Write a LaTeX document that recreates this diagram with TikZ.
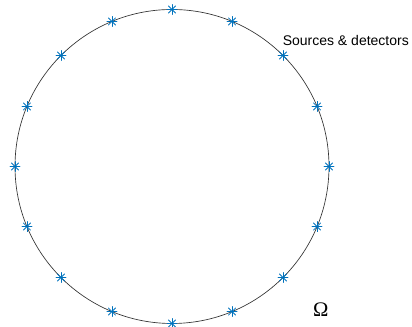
\documentclass[tikz,border=0pt]{standalone}
\usepackage{fontspec}
\setmainfont{Liberation Sans}
\newfontfamily\omegafont{Liberation Serif}
\usetikzlibrary{calc}
\definecolor{mblue}{rgb}{0,0.447,0.741}
\begin{document}
\begin{tikzpicture}[
  x=0.75pt, y=0.75pt,
  line join=round, line cap=round,
  boundary/.style={line width=0.5pt, draw=black!80},
  star/.style={line width=0.6pt, draw=mblue},
]
\useasboundingbox (0,0) rectangle (412,327);

% the domain boundary
\coordinate (o) at (172,160.5);
\draw[boundary] (o) circle (157);

% sources and detectors, every 22.5 degrees
\foreach \i in {0,...,15} {
  \coordinate (s\i) at ($(o)+(\i*22.5:157)$);
  \draw[star] ([shift={(-5,0)}]s\i) -- ([shift={(5,0)}]s\i);
  \draw[star] ([shift={(0,-5)}]s\i) -- ([shift={(0,5)}]s\i);
  \draw[star] ([shift={(-3.6,-3.6)}]s\i) -- ([shift={(3.6,3.6)}]s\i);
  \draw[star] ([shift={(-3.6,3.6)}]s\i) -- ([shift={(3.6,-3.6)}]s\i);
}

\node[anchor=base west, inner sep=0, font=\fontsize{10.5pt}{12pt}\selectfont] (lbl) at (282.5,281) {Sources \& detectors};
\node[inner sep=0, font=\omegafont\fontsize{15.5pt}{18pt}\selectfont] (omega) at (320.8,17.3) {Ω};

\end{tikzpicture}
\end{document}
